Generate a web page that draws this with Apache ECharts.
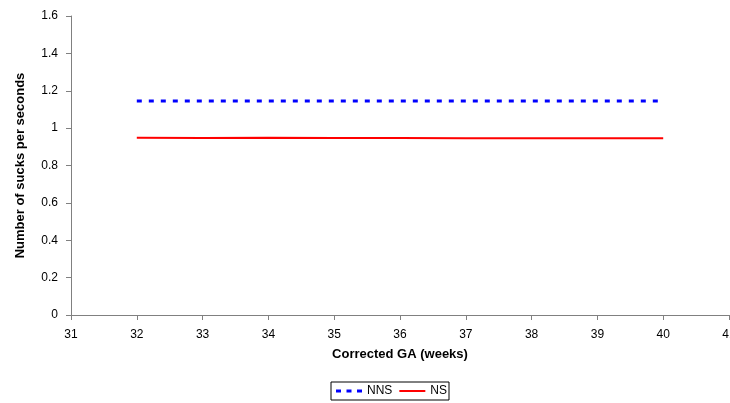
<!DOCTYPE html>
<html>
<head>
<meta charset="utf-8">
<script src="https://cdn.jsdelivr.net/npm/echarts@6/dist/echarts.min.js"></script>
<style>
  html, body { margin: 0; padding: 0; background: #fff; }
  #chart { width: 730px; height: 403px; }
</style>
</head>
<body>
<div id="chart"></div>
<script>
// Corrected gestational age (weeks)
const weeks = [32, 33, 34, 35, 36, 37, 38, 39, 40];
// Sucks per second, non-nutritive and nutritive sucking
const nnsValues = [1.145, 1.145, 1.145, 1.145, 1.145, 1.145, 1.145, 1.145, 1.145];
const nsValues = [0.948, 0.947, 0.948, 0.947, 0.947, 0.946, 0.946, 0.946, 0.946];

const font = 'Liberation Sans, Arial, sans-serif';

// Legend glyphs: three short dashes for NNS, a solid bar for NS
const dashIcon = 'path://M0,0h5v3h-5zM10.5,0h5v3h-5zM21,0h5v3h-5z';
const solidIcon = 'path://M0,0h26v2h-26z';

const chart = echarts.init(document.getElementById('chart'), null, { renderer: 'canvas' });
chart.setOption({
  animation: false,
  backgroundColor: '#fff',
  grid: { left: 71, right: 1, top: 16, bottom: 88, containLabel: false, outerBoundsMode: 'none' },
  xAxis: {
    type: 'value',
    min: 31, max: 41, interval: 1,
    name: 'Corrected GA (weeks)',
    nameLocation: 'middle',
    nameGap: 33,
    nameTextStyle: { fontFamily: font, fontSize: 13, fontWeight: 'bold', color: '#000' },
    axisLine: { show: true, lineStyle: { color: '#808080', width: 1 } },
    axisTick: { show: true, inside: false, length: 5, lineStyle: { color: '#808080' } },
    axisLabel: { fontFamily: font, fontSize: 12, color: '#000', margin: 14, showMaxLabel: true, showMinLabel: true, hideOverlap: false },
    splitLine: { show: false }
  },
  yAxis: {
    type: 'value',
    min: 0, max: 1.6, interval: 0.2,
    name: 'Number of sucks per seconds',
    nameLocation: 'middle',
    nameGap: 44,
    nameTextStyle: { fontFamily: font, fontSize: 13, fontWeight: 'bold', color: '#000' },
    axisLine: { show: true, lineStyle: { color: '#808080', width: 1 } },
    axisTick: { show: true, inside: false, length: 5, lineStyle: { color: '#808080' } },
    axisLabel: {
      fontFamily: font, fontSize: 12, color: '#000', margin: 13,
      formatter: v => String(Math.round(v * 10) / 10)
    },
    splitLine: { show: false }
  },
  legend: {
    left: 331, top: 382,
    itemWidth: 26, itemHeight: 3, itemGap: 7,
    padding: [3, 2, 3, 5],
    borderColor: '#000', borderWidth: 1, borderRadius: 0,
    textStyle: { fontFamily: font, fontSize: 12, color: '#000' },
    data: [
      { name: 'NNS', icon: dashIcon },
      { name: 'NS', icon: solidIcon }
    ]
  },
  series: [
    {
      name: 'NNS',
      type: 'line',
      data: weeks.map((w, i) => [w, nnsValues[i]]),
      symbol: 'none',
      lineStyle: { color: '#0000ff', width: 3, type: [5, 7] },
      itemStyle: { color: '#0000ff' }
    },
    {
      name: 'NS',
      type: 'line',
      data: weeks.map((w, i) => [w, nsValues[i]]),
      symbol: 'none',
      lineStyle: { color: '#ff0000', width: 2 },
      itemStyle: { color: '#ff0000' }
    }
  ]
});
</script>
</body>
</html>
